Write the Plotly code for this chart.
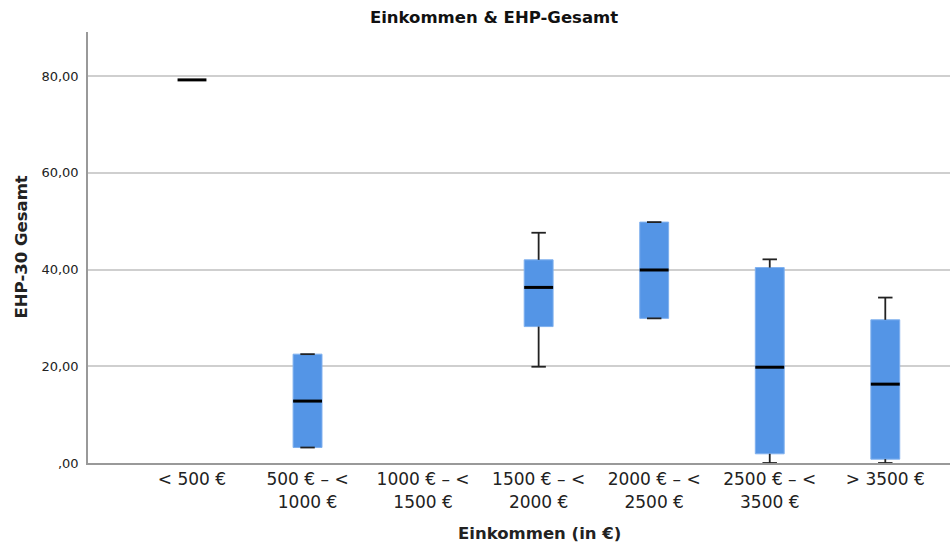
import plotly.graph_objects as go

categories = ["< 500 €", "500 € – <<br>1000 €", "1000 € – <<br>1500 €", "1500 € – <<br>2000 €",
              "2000 € – <<br>2500 €", "2500 € – <<br>3500 €", "> 3500 €"]
# per-category box statistics (None = no data)
lower = [79.2, 3.2, None, 19.9, 29.9, 0.0, 0.0]
q1 = [79.2, 3.2, None, 28.2, 29.9, 1.9, 0.8]
median = [79.2, 12.8, None, 36.3, 39.9, 19.8, 16.3]
q3 = [79.2, 22.5, None, 42.0, 49.8, 40.4, 29.6]
upper = [79.2, 22.5, None, 47.6, 49.8, 42.1, 34.2]
single_obs = [True, False, False, False, False, False, False]

y_ticks = [0, 20, 40, 60, 80]
y_tick_text = [",00", "20,00", "40,00", "60,00", "80,00"]

BLUE = "#5495E6"
BOXW = 0.25
CAPW = 0.125
FONT = "DejaVu Sans"

fig = go.Figure()

idx = [i for i in range(len(categories)) if median[i] is not None and not single_obs[i]]
fig.add_trace(go.Box(
    x=idx,
    q1=[q1[i] for i in idx], median=[median[i] for i in idx], q3=[q3[i] for i in idx],
    lowerfence=[q1[i] for i in idx], upperfence=[q3[i] for i in idx],
    fillcolor=BLUE, line=dict(color="#7FB0EE", width=1),
    width=BOXW, whiskerwidth=0, boxpoints=False, showlegend=False, hoverinfo="skip",
))

# whiskers, caps, medians in black
wx, wy = [], []
for i in range(len(categories)):
    if median[i] is None or single_obs[i]:
        continue
    if upper[i] > q3[i]:
        wx += [i, i, None]; wy += [q3[i], upper[i], None]
    if lower[i] < q1[i]:
        wx += [i, i, None]; wy += [q1[i], lower[i], None]
    wx += [i - CAPW / 2, i + CAPW / 2, None]; wy += [upper[i], upper[i], None]
    wx += [i - CAPW / 2, i + CAPW / 2, None]; wy += [lower[i], lower[i], None]
fig.add_trace(go.Scatter(x=wx, y=wy, mode="lines", line=dict(color="#222222", width=1.8),
                         showlegend=False, hoverinfo="skip"))

mx, my = [], []
for i in range(len(categories)):
    if median[i] is None:
        continue
    mx += [i - BOXW / 2, i + BOXW / 2, None]; my += [median[i], median[i], None]
fig.add_trace(go.Scatter(x=mx, y=my, mode="lines", line=dict(color="black", width=3),
                         showlegend=False, hoverinfo="skip"))

fig.update_layout(
    width=950, height=544,
    margin=dict(l=88, r=0, t=32, b=81),
    paper_bgcolor="white", plot_bgcolor="white",
    font=dict(family=FONT, color="#222222"),
    title=dict(text="<b>Einkommen & EHP-Gesamt</b>", x=0.52, xref="container",
               y=0.968, yref="container", xanchor="center", yanchor="middle",
               font=dict(size=16.5, color="#111111", family=FONT)),
    xaxis=dict(range=[-0.9, 6.56], tickmode="array", tickvals=list(range(len(categories))),
               ticktext=categories, showgrid=False, zeroline=False,
               showline=True, linecolor="#999999", linewidth=2, ticks="",
               ticklabelstandoff=0,
               tickfont=dict(size=17, family=FONT, color="#222222")),
    yaxis=dict(range=[0, 89.1], tickmode="array", tickvals=y_ticks, ticktext=y_tick_text,
               showgrid=True, gridcolor="#CFCFCF", gridwidth=1.5, zeroline=False,
               showline=True, linecolor="#999999", linewidth=1.5, ticks="",
               ticklabelstandoff=5,
               tickfont=dict(size=13, family=FONT, color="#222222")),
    annotations=[
        dict(text="<b>Einkommen (in €)</b>", x=(539 - 88) / 862, xref="paper",
             y=-(533 - 463) / 431, yref="paper", xanchor="center", yanchor="middle",
             showarrow=False, font=dict(size=16.5, family=FONT)),
        dict(text="<b>EHP-30 Gesamt</b>", textangle=-90, x=-(88 - 21) / 862, y=0.5,
             xref="paper", yref="paper", xanchor="center", yanchor="middle",
             showarrow=False, font=dict(size=16.5, family=FONT)),
    ],
)

fig.write_html("out.html")
